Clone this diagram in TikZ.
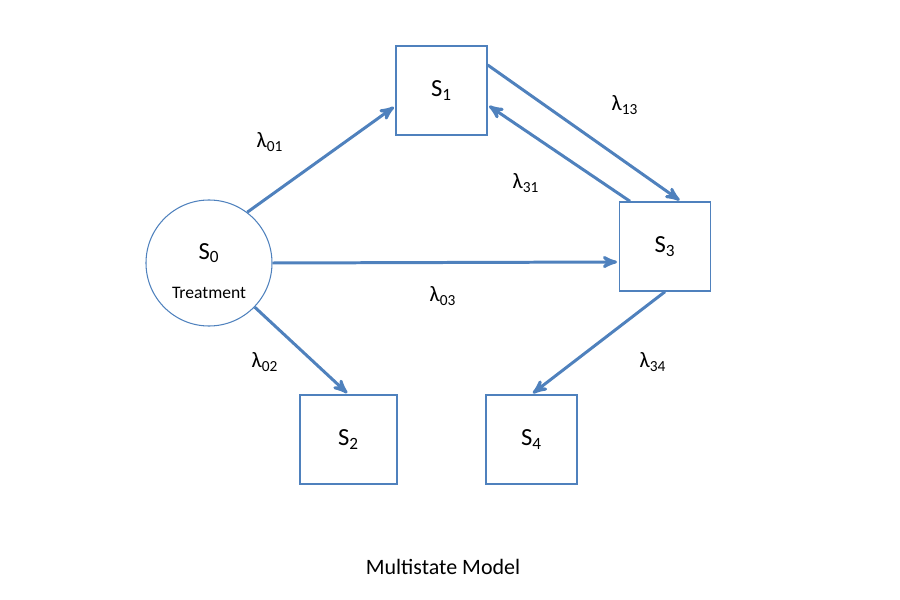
\documentclass[tikz,border=0pt]{standalone}
\usepackage{fontspec}
\setmainfont{Carlito}
\usetikzlibrary{arrows,positioning}
\definecolor{officeblue}{RGB}{79,129,189}
\newcommand{\rate}[1]{λ\textsubscript{#1}}

\begin{document}
\begin{tikzpicture}[>=stealth',shorten >=1pt,
    font=\fontsize{12.5}{15}\selectfont,
    state/.style={draw=officeblue,line width=0.8pt,minimum width=1.82cm,minimum height=1.78cm,
      font=\fontsize{14}{16}\selectfont},
    start/.style={circle,draw=officeblue,line width=0.6pt,minimum size=2.52cm},
    arc/.style={->,draw=officeblue,line width=1.7pt}]
  \useasboundingbox (0,0) rectangle (18,12);
  \node[start] (S0) at (4.18,6.74) {};
  \node (S0txt) at ([yshift=0.2cm]S0.center) {\fontsize{14}{16}\selectfont S\textsubscript{0}};
  \node (treat) at ([yshift=-0.6cm]S0.center) {\fontsize{10}{12}\selectfont Treatment};
  \node[state] (S1) at (8.83,10.19) {S\textsubscript{1}};
  \node[state] (S3) at (13.3,7.07) {S\textsubscript{3}};
  \node[state,minimum width=1.94cm] (S2) at (6.97,3.21) {S\textsubscript{2}};
  \node[state] (S4) at (10.63,3.21) {S\textsubscript{4}};
  % rates
  \node (l01) at (5.40,9.16) {\rate{01}};
  \node (l13) at (12.50,9.90) {\rate{13}};
  \node (l31) at (10.52,8.34) {\rate{31}};
  \node (l03) at (8.86,6.08) {\rate{03}};
  \node (l02) at (5.30,4.76) {\rate{02}};
  \node (l34) at (13.06,4.76) {\rate{34}};
  \path[every edge/.style={arc}] (S0.53) edge ([yshift=-0.31cm]S1.west)
    ([yshift=0.51cm]S1.east) edge ([xshift=0.32cm]S3.north)
    ([xshift=-0.7cm]S3.north) edge ([yshift=-0.29cm]S1.east)
    (S0.east) edge ([yshift=-0.31cm]S3.west)
    (S0.-44) edge (S2.north)
    (S3.south) edge (S4.north);
  \node (title) at (8.86,0.66) {Multistate Model};
\end{tikzpicture}
\end{document}
